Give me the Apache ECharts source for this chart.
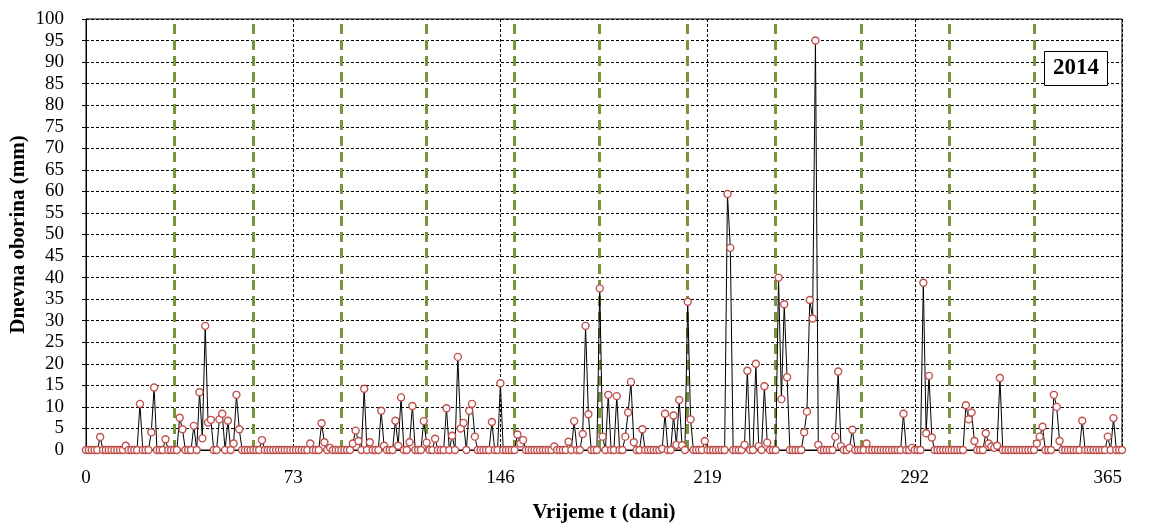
<!DOCTYPE html>
<html>
<head>
<meta charset="utf-8">
<script src="https://cdn.jsdelivr.net/npm/echarts@6/dist/echarts.min.js"></script>
<style>html,body{margin:0;padding:0;background:#fff}#c{width:1149px;height:526px}</style>
</head>
<body>
<div id="c"></div>
<script>
// Daily precipitation (mm), day index 0..365
const precipitation = [
  0,0,0,0,0,3,0,0,0,0,
  0,0,0,0,1,0,0,0,0,10.7,
  0,0,0,4.1,14.5,0,0,0,2.5,0,
  0,0,0,7.5,4.8,0,0,0,5.6,0,
  13.4,2.7,28.8,6.4,7,0,0,7.1,8.4,0,
  6.8,0,1.5,12.8,4.8,0,0,0,0,0,
  0,0,2.3,0,0,0,0,0,0,0,
  0,0,0,0,0,0,0,0,0,1.5,
  0,0,0,6.2,1.8,0,0.5,0,0,0,
  0,0,0,0,1.5,4.5,2.1,0,14.2,0,
  1.8,0,0,0,9.1,1,0,0,0,6.8,
  1,12.2,0,0,1.8,10.2,0,0,0,6.7,
  1.7,0,0,2.6,0,0,0,9.7,0,3.3,
  0,21.6,5,6.3,0,9.1,10.7,3.1,0,0,
  0,0,0,6.5,0,0,15.5,0,0,0,
  0,0,3.6,1.5,2.3,0,0,0,0,0,
  0,0,0,0,0,0.8,0,0,0,0,
  1.9,0,6.7,0,0,3.7,28.8,8.3,0,0,
  0,37.5,3.1,0,12.8,0,0,12.5,0,0,
  3.1,8.7,15.8,1.8,0,0,4.8,0,0,0,
  0,0,0,0.3,8.4,0,0,8,1.2,11.6,
  1.1,0,34.4,7.1,0,0,0,0,2.1,0,
  0,0,0,0,0,0,59.4,46.9,0,0,
  0,0,1.2,18.4,0,0,20,0.9,0,14.8,
  1.7,0,0,0,40,11.8,33.8,16.9,0,0,
  0,0,0,4.1,8.9,34.8,30.5,95,1.2,0,
  0,0,0,0,3.1,18.2,0.9,0,0,0.5,
  4.7,0,0,0,0,1.5,0,0,0,0,
  0,0,0,0,0,0,0,0,8.4,0,
  0,0.5,0,0,0,38.8,3.9,17.2,2.9,0,
  0,0,0,0,0,0,0,0,0,0,
  10.4,7.1,8.7,2.1,0,0,0,3.9,1.5,0.8,
  0.5,1,16.7,0,0,0,0,0,0,0,
  0,0,0,0,0,1.5,3.1,5.4,0,0,
  0,12.8,10,2.1,0,0,0,0,0,0,
  0,6.8,0,0,0,0,0,0,0,0,
  3.1,0,7.4,0,0,0
];
const monthBoundaries = [31, 59, 90, 120, 151, 181, 212, 243, 273, 304, 334];
const xTicks = [0, 73, 146, 219, 292, 365];
const yearLabel = '2014';
const xTitle = 'Vrijeme t (dani)';
const yTitle = 'Dnevna oborina (mm)';

const serif = "'Liberation Serif', 'Times New Roman', serif";
const seriesData = precipitation.map((v, i) => [i, v]);

const chart = echarts.init(document.getElementById('c'));
chart.setOption({
  backgroundColor: '#fff',
  animation: false,
  title: {
    text: yearLabel,
    left: 1044, top: 51,
    backgroundColor: '#fff',
    borderColor: '#000', borderWidth: 1,
    padding: [6, 9],
    textStyle: { fontFamily: serif, fontWeight: 'bold', fontSize: 23, color: '#000' }
  },
  grid: { left: 86, right: 27, top: 19, bottom: 76, outerBoundsMode: 'none', containLabel: false,
    show: true, borderColor: '#000', borderWidth: 1, backgroundColor: 'transparent' },
  xAxis: {
    type: 'value', min: 0, max: 365, interval: 73,
    name: xTitle, nameLocation: 'middle', nameGap: 52, nameMoveOverlap: false,
    nameTextStyle: { fontFamily: serif, fontWeight: 'bold', fontSize: 21, color: '#000' },
    axisLine: { lineStyle: { color: '#000', width: 1 } },
    axisTick: { show: false },
    axisLabel: { fontFamily: serif, fontSize: 19, color: '#000', margin: 19, alignMaxLabel: 'right',
      formatter: v => xTicks.indexOf(v) >= 0 ? String(v) : '' },
    splitLine: { show: true, lineStyle: { color: '#000', type: [3, 2], width: 1 } }
  },
  yAxis: {
    type: 'value', min: 0, max: 100, interval: 5,
    name: yTitle, nameLocation: 'middle', nameGap: 57, nameMoveOverlap: false,
    nameTextStyle: { fontFamily: serif, fontWeight: 'bold', fontSize: 21, color: '#000' },
    axisLine: { show: true, lineStyle: { color: '#000', width: 1 } },
    axisTick: { show: true, inside: false, length: 4, lineStyle: { color: '#000' } },
    axisLabel: { fontFamily: serif, fontSize: 19, color: '#000', margin: 22 },
    splitLine: { show: true, lineStyle: { color: '#000', type: [3, 2], width: 1 } }
  },
  series: [{
    type: 'line',
    data: seriesData,
    symbol: 'circle', symbolSize: 7, showAllSymbol: true,
    lineStyle: { color: '#000', width: 1 },
    itemStyle: { color: '#fff', borderColor: '#C0504D', borderWidth: 1.4 },
    z: 3,
    markLine: {
      silent: true, symbol: 'none', label: { show: false },
      lineStyle: { color: '#77933C', type: [10, 6], width: 3 },
      data: monthBoundaries.map(d => ({ xAxis: d })),
      z: 2
    }
  }]
});
</script>
</body>
</html>
